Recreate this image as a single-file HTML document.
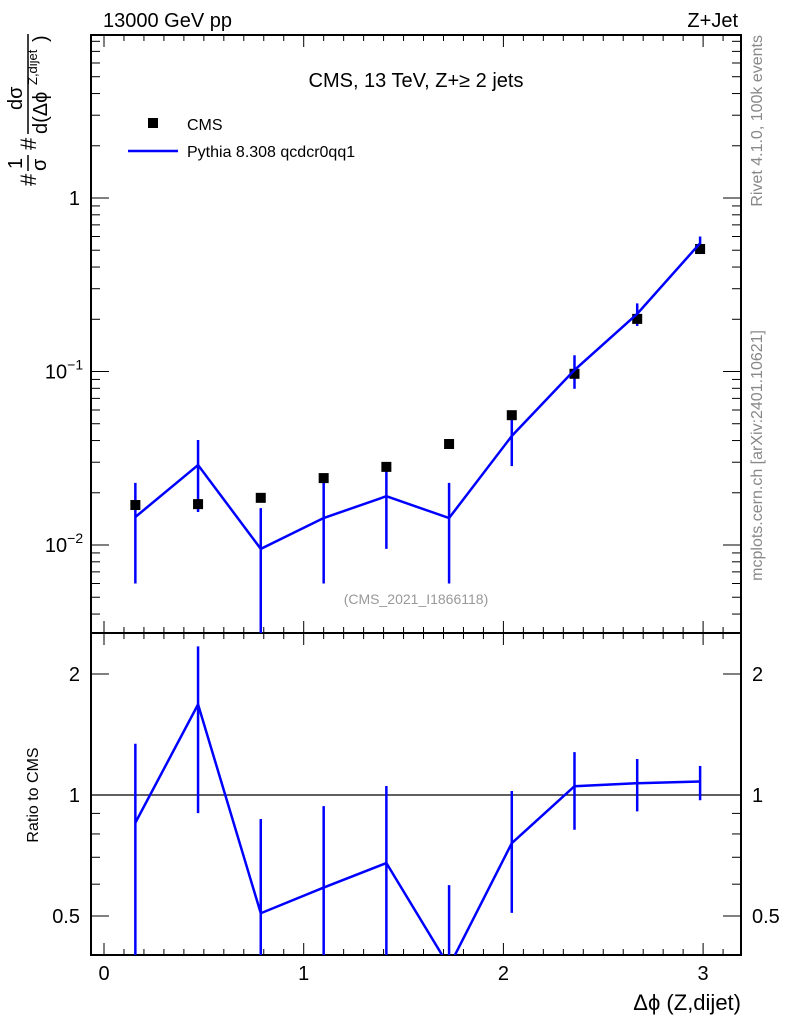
<!DOCTYPE html>
<html><head><meta charset="utf-8"><style>
body{margin:0;background:#fff;}
svg{display:block;font-family:"Liberation Sans",sans-serif;}
</style></head><body>
<svg id="chart" width="786" height="1024" viewBox="0 0 786 1024" xmlns="http://www.w3.org/2000/svg">
<g id="g"></g>
<g transform="translate(0,186) rotate(-90)" font-size="22">
<text x="0" y="36">#</text>
<text x="17" y="22" font-size="20">1</text>
<line x1="15" y1="28" x2="31" y2="28" stroke="#000" stroke-width="1.5"/>
<text x="15" y="46" font-size="20">σ</text>
<text x="36" y="36">#</text>
<text x="76" y="22" font-size="20">dσ</text>
<line x1="52" y1="28" x2="152" y2="28" stroke="#000" stroke-width="1.5"/>
<text x="52" y="47" font-size="20">d(Δϕ</text>
<text x="101" y="37" font-size="13">Z,dijet</text>
<text x="144" y="47" font-size="20">)</text>
</g>
</svg>
<script>
const binCenters=[0.157,0.471,0.785,1.100,1.414,1.728,2.042,2.356,2.670,2.985];
const cmsValues=[0.0170,0.0172,0.0187,0.0243,0.0282,0.0382,0.0560,0.097,0.201,0.508];
const pythiaValues=[0.0145,0.0289,0.0095,0.0143,0.0191,0.0143,0.0425,0.102,0.215,0.549];
const pythiaHigh=[0.0228,0.0403,0.0163,0.0228,0.0297,0.0228,0.0573,0.124,0.247,0.600];
const pythiaLow=[0.0060,0.0155,0.0010,0.0060,0.0095,0.0060,0.0285,0.0795,0.183,0.493];
const xTicks=[0,1,2,3];
const mainTicks=[0.01,0.1,1];
const ratioTicks=[0.5,1,2];

const NS="http://www.w3.org/2000/svg";
const G=document.getElementById('g');
function el(tag,attrs,parent){const e=document.createElementNS(NS,tag);for(const k in attrs)e.setAttribute(k,attrs[k]);(parent||G).appendChild(e);return e;}
const L=91,R=741,T=35,M=633,B=955;
const X=v=>104+v*199.7;
const Y=v=>198-Math.log10(v)*173.5;
const RY=v=>795-Math.log10(v)*402;
const clampM=y=>Math.max(T,Math.min(M,y));
const clampR=y=>Math.max(M,Math.min(B,y));

let f=el('rect',{x:L,y:T,width:R-L,height:M-T,fill:'none',stroke:'#000','stroke-width':2});

f=el('rect',{x:L,y:M,width:R-L,height:B-M,fill:'none',stroke:'#000','stroke-width':2});


for(let i=-1;i<=32;i++){const v=i/10;const x=X(v);if(x<L||x>R)continue;const len=(i%10==0)?12:6;
 el('line',{x1:x,y1:B,x2:x,y2:B-len,stroke:'#000','stroke-width':1});
 el('line',{x1:x,y1:M,x2:x,y2:M+len,stroke:'#000','stroke-width':1});
 el('line',{x1:x,y1:M,x2:x,y2:M-len,stroke:'#000','stroke-width':1});
 el('line',{x1:x,y1:T,x2:x,y2:T+len,stroke:'#000','stroke-width':1});}
xTicks.forEach(v=>{const t=el('text',{x:X(v),y:980,'font-size':20,'text-anchor':'middle'});t.textContent=v;
 });

for(let d=-3;d<=0;d++)for(let k=1;k<=9;k++){const v=k*Math.pow(10,d);const y=Y(v);if(y<T||y>M)continue;const len=k==1?18:9;
 el('line',{x1:L,y1:y,x2:L+len,y2:y,stroke:'#000'});el('line',{x1:R,y1:y,x2:R-len,y2:y,stroke:'#000'});}
mainTicks.forEach((v,i)=>{const t=el('text',{x:i==2?80:64,y:Y(v)+7,'font-size':20,'text-anchor':i==2?'end':'middle'});
 if(i<2){t.textContent='10';const s=el('tspan',{dy:-9,'font-size':14},t);s.textContent=i==0?'−2':'−1';}else t.textContent='1';
 });

[0.4,0.5,0.6,0.7,0.8,0.9,1,2].forEach(v=>{const y=RY(v);const len=(v==0.5||v==1||v==2)?18:9;
 el('line',{x1:L,y1:y,x2:L+len,y2:y,stroke:'#000'});el('line',{x1:R,y1:y,x2:R-len,y2:y,stroke:'#000'});});
ratioTicks.forEach(v=>{const lab=String(v);
 let t=el('text',{x:80,y:RY(v)+7,'font-size':20,'text-anchor':'end'});t.textContent=lab;
 
 t=el('text',{x:752,y:RY(v)+7,'font-size':20,'text-anchor':'start'});t.textContent=lab;
 });
let ref=el('line',{x1:L,y1:RY(1),x2:R,y2:RY(1),stroke:'#000','stroke-width':1.3});


const cp=el('clipPath',{id:'cm'});el('rect',{x:L,y:T,width:R-L,height:M-T},cp);
const cr=el('clipPath',{id:'cr'});el('rect',{x:L,y:M,width:R-L,height:B-M},cr);
const gm=el('g',{'clip-path':'url(#cm)'});const gr=el('g',{'clip-path':'url(#cr)'});
binCenters.forEach((c,i)=>{const b=el('line',{x1:X(c),y1:clampM(Y(pythiaHigh[i])),x2:X(c),y2:clampM(Y(pythiaLow[i])),stroke:'#0000ff','stroke-width':2.5},gm);
 });
binCenters.forEach((c,i)=>{const m=el('rect',{x:X(c)-5,y:Y(cmsValues[i])-5,width:10,height:10,fill:'#000'},gm);
 });
let pl=el('polyline',{points:binCenters.map((c,i)=>X(c)+','+Y(pythiaValues[i])).join(' '),fill:'none',stroke:'#0000ff','stroke-width':2.5},gm);


binCenters.forEach((c,i)=>{const b=el('line',{x1:X(c),y1:clampR(RY(pythiaHigh[i]/cmsValues[i])),x2:X(c),y2:clampR(RY(pythiaLow[i]/cmsValues[i])),stroke:'#0000ff','stroke-width':2.5},gr);
 });
let rl=el('polyline',{points:binCenters.map((c,i)=>X(c)+','+RY(pythiaValues[i]/cmsValues[i])).join(' '),fill:'none',stroke:'#0000ff','stroke-width':2.5},gr);


function txt(name,attrs,s){const t=el('text',attrs);t.textContent=s;return t;}
txt('title-left',{x:103,y:27,'font-size':20},'13000 GeV pp');
txt('title-right',{x:738,y:27,'font-size':20,'text-anchor':'end'},'Z+Jet');
txt('plot-title',{x:416,y:87,'font-size':20,'text-anchor':'middle'},'CMS, 13 TeV, Z+≥ 2 jets');
let lm=el('rect',{x:148,y:118,width:10,height:10,fill:'#000'});
txt('legend-cms-label',{x:187,y:130,'font-size':16},'CMS');
let ll=el('line',{x1:128,y1:151,x2:178,y2:151,stroke:'#0000ff','stroke-width':2.5});
txt('legend-pythia-label',{x:187,y:157,'font-size':16},'Pythia 8.308 qcdcr0qq1');
txt('analysis-id',{x:416,y:604,'font-size':14,'text-anchor':'middle',fill:'#999'},'(CMS_2021_I1866118)');
txt('x-axis-title',{x:741,y:1010,'font-size':22,'text-anchor':'end'},'Δϕ (Z,dijet)');
txt('ratio-y-axis-title',{x:0,y:0,'font-size':16,'text-anchor':'middle',transform:'translate(38,795) rotate(-90)'},'Ratio to CMS');
txt('rivet-label',{x:0,y:0,'font-size':16,fill:'#888','text-anchor':'end',transform:'translate(762,35) rotate(-90)'},'Rivet 4.1.0,  100k events');
txt('mcplots-label',{x:0,y:0,'font-size':16,fill:'#888','text-anchor':'end',transform:'translate(762,330) rotate(-90)'},'mcplots.cern.ch [arXiv:2401.10621]');
</script>
</body></html>
